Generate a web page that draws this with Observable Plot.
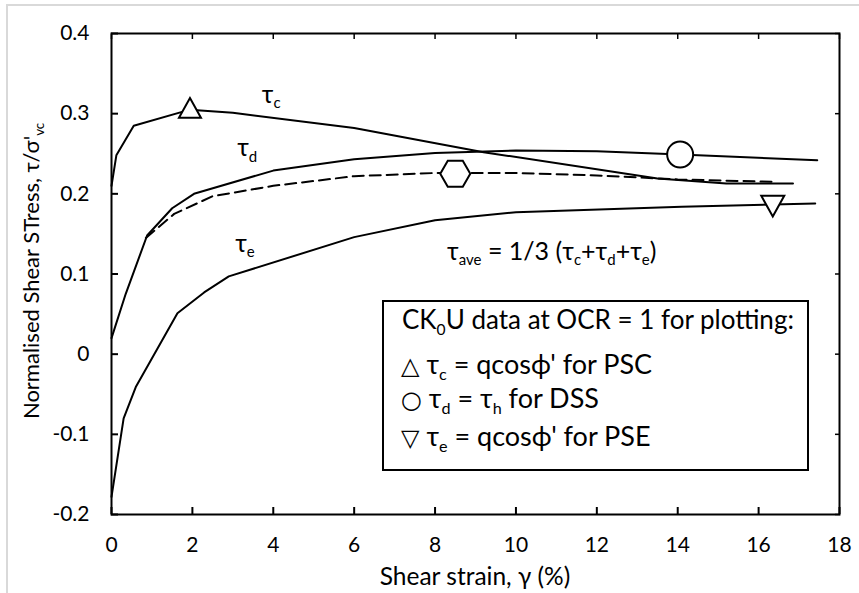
<!DOCTYPE html>
<html><head><meta charset="utf-8">
<script src="https://cdn.jsdelivr.net/npm/d3@7"></script>
<script src="https://cdn.jsdelivr.net/npm/@observablehq/plot@0.6"></script>
<style>
body{margin:0;background:#fff;}
#wrap{position:relative;width:859px;height:593px;overflow:hidden;background:#fff;}
#edge{position:absolute;left:6px;top:4px;width:900px;height:700px;border-left:2px solid #d9d9d9;border-top:2px solid #d9d9d9;}
#wrap svg{position:absolute;left:0;top:0;}
</style></head>
<body><div id="wrap"><div id="edge"></div></div>
<script>
// ---- data ----
const xTicks = [0, 2, 4, 6, 8, 10, 12, 14, 16, 18];
const yTicks = [-0.2, -0.1, 0, 0.1, 0.2, 0.3, 0.4];

const strainC = [0, 0.12, 0.55, 1.94, 3.0, 6.0, 9.2, 13.5, 15.2, 16.85];
const tauC    = [0.21, 0.248, 0.285, 0.305, 0.301, 0.282, 0.252, 0.219, 0.213, 0.213];

const strainD = [0, 0.35, 0.88, 1.5, 2.04, 4.0, 6.0, 8.0, 10, 12, 14.06, 17.45];
const tauD    = [0.02, 0.075, 0.148, 0.182, 0.2, 0.229, 0.243, 0.251, 0.254, 0.253, 0.249, 0.242];

const strainE = [0, 0.3, 0.6, 1.63, 2.29, 2.9, 6.0, 8.0, 10, 14.1, 17.4];
const tauE    = [-0.178, -0.08, -0.041, 0.051, 0.077, 0.097, 0.146, 0.167, 0.177, 0.184, 0.188];

const strainAve = [0.85, 1.55, 2.5, 4.0, 6.0, 8.0, 10, 12, 14, 16.35];
const tauAve    = [0.145, 0.175, 0.197, 0.21, 0.222, 0.226, 0.226, 0.223, 0.218, 0.215];

const markerNames  = ["PSC", "DSS", "ave", "PSE"];
const markerStrain = [1.94, 14.06, 8.5, 16.35];
const markerTau    = [0.303, 0.249, 0.225, 0.189];

// ---- tables ----
const zip = (xs, ys) => xs.map((x, i) => ({x, y: ys[i]}));
const cData = zip(strainC, tauC), dData = zip(strainD, tauD), eData = zip(strainE, tauE), aData = zip(strainAve, tauAve);
const mData = markerNames.map((n, i) => ({n, x: markerStrain[i], y: markerTau[i]}));

// ---- marker shapes ----
const rOf = s => Math.sqrt(s / Math.PI);
const triUp = {draw(c, s){const r = rOf(s); c.moveTo(0, -1.2*r); c.lineTo(r, 0.6*r); c.lineTo(-r, 0.6*r); c.closePath();}};
const triDown = {draw(c, s){const r = rOf(s); c.moveTo(0, 1.2*r); c.lineTo(r, -0.6*r); c.lineTo(-r, -0.6*r); c.closePath();}};
const hexFlat = {draw(c, s){const r = rOf(s), h = r*0.866; c.moveTo(-r, 0); c.lineTo(-r/2, -h); c.lineTo(r/2, -h); c.lineTo(r, 0); c.lineTo(r/2, h); c.lineTo(-r/2, h); c.closePath();}};

const FONT = "Lato, 'Noto Sans', 'DejaVu Sans', sans-serif";
const lineOpts = {x: "x", y: "y", stroke: "#000", strokeWidth: 2, strokeLinejoin: "round"};
const dotOpts = {x: "x", y: "y", fill: "#fff", stroke: "#000", strokeWidth: 2};

const chart = Plot.plot({
  width: 859, height: 593,
  marginLeft: 111, marginRight: 20, marginTop: 33, marginBottom: 79,
  style: {fontFamily: FONT, fontSize: "21px", color: "#000", background: "transparent", overflow: "visible"},
  x: {domain: [0, 18]},
  y: {domain: [-0.2, 0.4]},
  marks: [
    Plot.line(cData, lineOpts),
    Plot.line(dData, lineOpts),
    Plot.line(eData, lineOpts),
    Plot.line(aData, {...lineOpts, strokeDasharray: "11,6"}),
    Plot.frame({stroke: "#000", strokeWidth: 2}),
    Plot.axisX(xTicks, {tickSize: -7, tickPadding: 30, strokeWidth: 2, label: null, tickFormat: d => String(d)}),
    Plot.axisX(xTicks, {anchor: "top", tickSize: -5, strokeWidth: 1.5, label: null, tickFormat: () => ""}),
    Plot.axisY(yTicks, {tickSize: -7, tickPadding: 29, strokeWidth: 2, label: null, tickFormat: d => d === 0 ? "0" : d.toFixed(1)}),
    Plot.axisY(yTicks, {anchor: "right", tickSize: -5, strokeWidth: 1.5, label: null, tickFormat: () => ""}),
    Plot.dot(mData.filter(d => d.n === "PSC"), {...dotOpts, symbol: triUp, r: 11}),
    Plot.dot(mData.filter(d => d.n === "DSS"), {...dotOpts, symbol: "circle", r: 13}),
    Plot.dot(mData.filter(d => d.n === "ave"), {...dotOpts, symbol: hexFlat, r: 15}),
    Plot.dot(mData.filter(d => d.n === "PSE"), {...dotOpts, symbol: triDown, r: 11.5})
  ]
});
document.getElementById("wrap").appendChild(chart);

// ---- rich text helpers ----
const sx = chart.scale("x"), sy = chart.scale("y");
const svg = d3.select(chart);
const g = svg.append("g").attr("font-family", FONT).attr("fill", "#000");
function rich(parent, x, y, parts, size, anchor = "start") {
  const t = parent.append("text").attr("x", x).attr("y", y).attr("font-size", size).attr("text-anchor", anchor);
  let shift = 0;
  for (const [s, sub, fs] of parts) {
    const want = sub ? size * 0.22 : 0;
    const ts = t.append("tspan").text(s).attr("dy", want - shift);
    if (sub) ts.attr("font-size", size * 0.6);
    if (fs) ts.attr("font-size", fs).attr("font-family", "'DejaVu Sans', sans-serif");
    shift = want;
  }
  return t;
}

// curve annotations (data coordinates)
const annX = [3.73, 3.12, 3.07, 8.31];
const annY = [0.313, 0.246, 0.127, 0.117];
const annParts = [
  [["τ"], ["c", 1]],
  [["τ"], ["d", 1]],
  [["τ"], ["e", 1]],
  [["τ"], ["ave", 1], [" = 1/3 (τ"], ["c", 1], ["+τ"], ["d", 1], ["+τ"], ["e", 1], [")"]]
];
annParts.forEach((p, i) => rich(g, sx.apply(annX[i]), sy.apply(annY[i]), p, 25));

// axis titles
rich(g, sx.apply(9), 585, [["Shear strain, γ (%)"]], 24.5, "middle");
const yl = g.append("g").attr("transform", `translate(39,271) rotate(-90)`);
rich(yl, 0, 0, [["Normalised Shear STress, τ/σ'"], ["vc", 1]], 22, "middle");

// legend box
const lg = g.append("g");
lg.append("rect").attr("x", 383).attr("y", 301).attr("width", 425).attr("height", 169)
  .attr("fill", "#fff").attr("stroke", "#000").attr("stroke-width", 2);
rich(lg, 402, 329, [["CK"], ["0", 1], ["U data at OCR = 1 for plotting:"]], 26);
rich(lg, 401, 374, [["△", 0, 24], [" τ"], ["c", 1], [" = qcosϕ' for PSC"]], 27);
rich(lg, 401, 408, [["○", 0, 24], [" τ"], ["d", 1], [" = τ"], ["h", 1], [" for DSS"]], 27);
rich(lg, 401, 446, [["▽", 0, 24], [" τ"], ["e", 1], [" = qcosϕ' for PSE"]], 27);
</script>
</body></html>
